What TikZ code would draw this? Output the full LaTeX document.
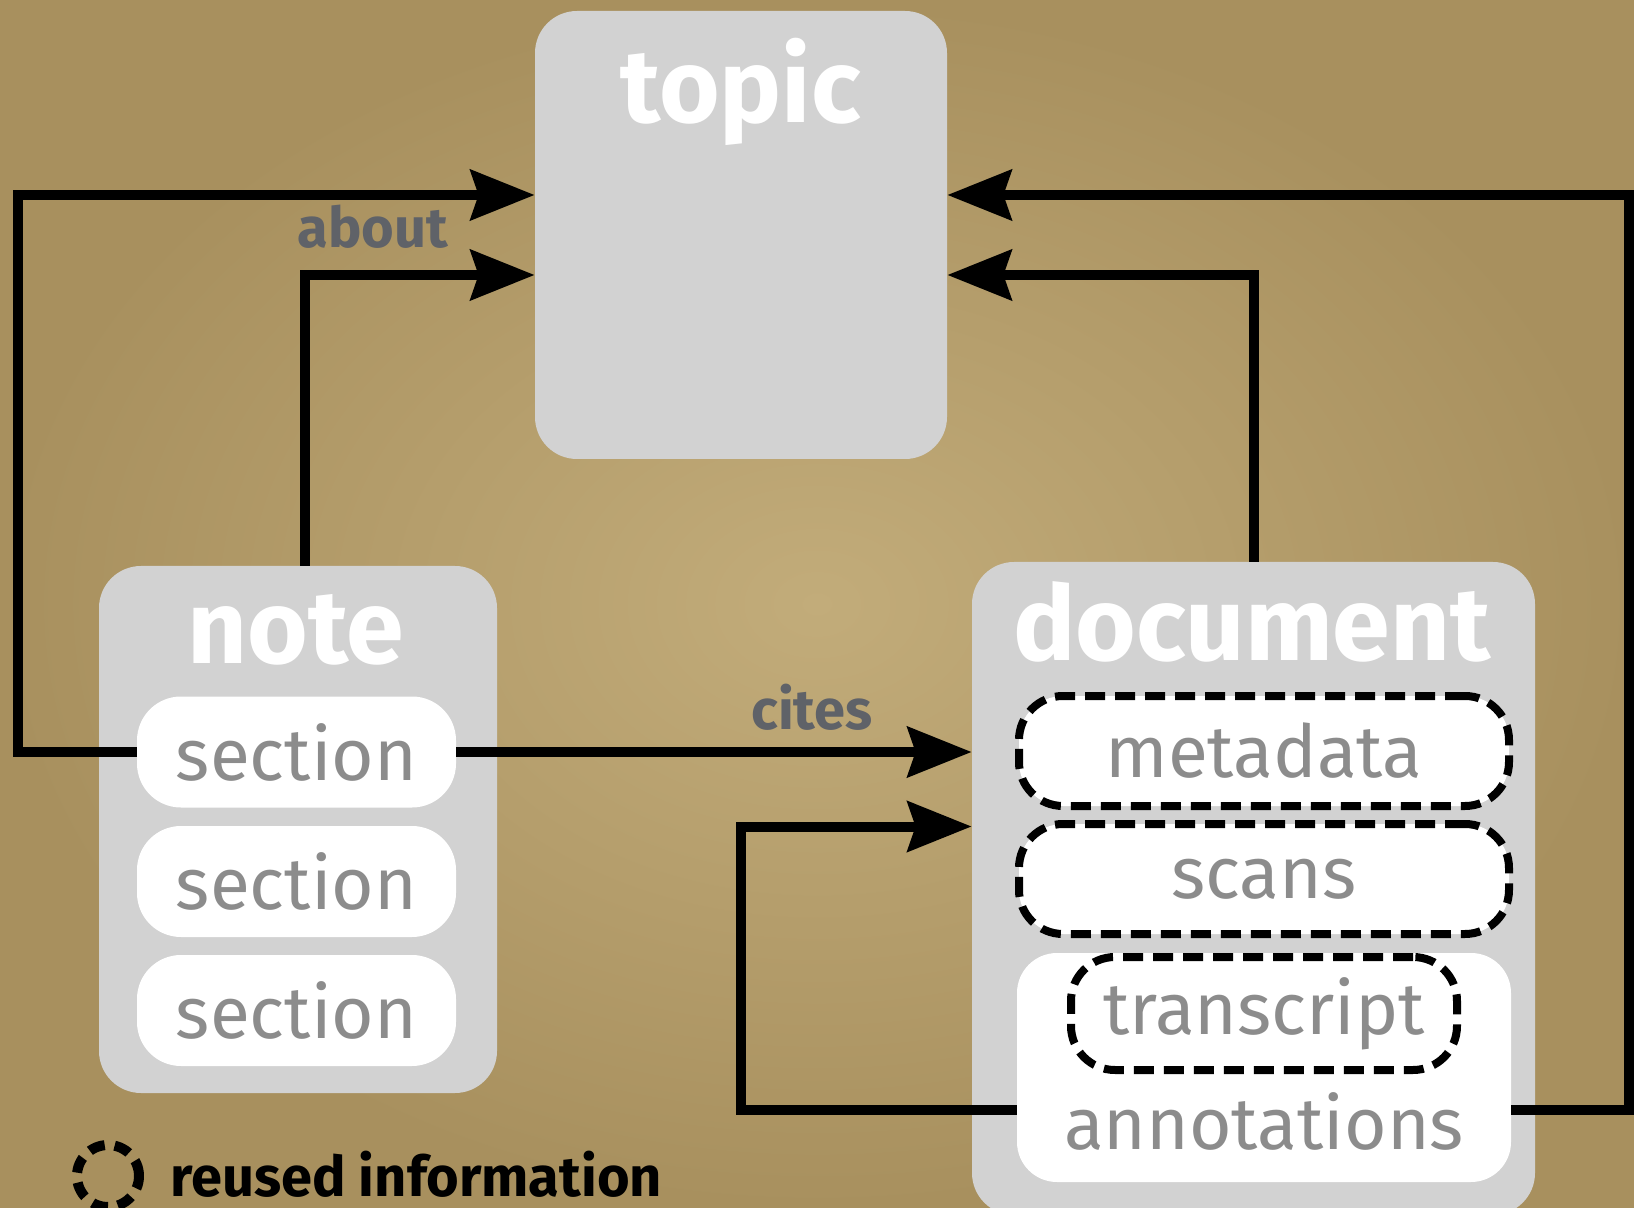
\documentclass[tikz,border=0pt]{standalone}
\usepackage{fontspec}
\setmainfont{Fira Sans}
\usetikzlibrary{arrows.meta}

\definecolor{paperlight}{RGB}{194,172,122}
\definecolor{paperdark}{RGB}{168,144,94}
\definecolor{boxgray}{RGB}{210,210,210}
\definecolor{partgray}{RGB}{140,140,140}
\definecolor{labelgray}{RGB}{95,98,104}

\begin{document}
\begin{tikzpicture}[x=0.5pt, y=-0.5pt,
    bigbox/.style={fill=boxgray, rounded corners=21pt, inner sep=0pt},
    title/.style={text=white, font=\fontsize{52}{52}\selectfont\bfseries, anchor=base},
    part/.style={fill=white, rounded corners=22pt, inner sep=0pt, text=partgray, font=\fontsize{36.5}{36.5}\selectfont},
    reused/.style={draw=black, dash pattern=on 10pt off 5pt, line width=4pt},
    link/.style={-{Stealth[length=32pt, width=25pt, inset=4pt]}, line width=5pt},
    linklabel/.style={text=labelgray, font=\fontsize{28}{28}\selectfont\bfseries, inner sep=0pt}]

    % paper
    \useasboundingbox (0,0) rectangle (1634,1208);
    \shade[inner color=paperlight, outer color=paperdark] (0,0) rectangle (1634,1208);

    % topic
    \node(topic) [bigbox, minimum width=206pt, minimum height=224pt] at (741,235) {};
    \node(topictitle) [title] at (741,123) {topic};

    % note
    \node(note) [bigbox, minimum width=199pt, minimum height=263.5pt] at (298,829.5) {};
    \node(notetitle) [title] at (296,663) {note};
    \node(sec1) [part, minimum width=159.5pt, minimum height=55.5pt] at (296.5,752)    {section};
    \node(sec2) [part, minimum width=159.5pt, minimum height=55.5pt] at (296.5,881.5)  {section};
    \node(sec3) [part, minimum width=159.5pt, minimum height=55.5pt] at (296.5,1010.5) {section};

    % document
    \node(doc) [bigbox, minimum width=281.5pt, minimum height=326.5pt] at (1253.5,888.5) {};
    \node(doctitle) [title] at (1252,661) {document};
    \node(meta)  [part, reused, minimum width=245pt, minimum height=55pt] at (1264,751) {metadata};
    \node(scans) [part, reused, minimum width=245pt, minimum height=55pt] at (1264,879) {scans};
    \node(annot) [part, rounded corners=20pt, minimum width=247pt, minimum height=114.5pt] at (1264,1067.5) {};
    \node(trans) [part, reused, minimum width=193pt, minimum height=56.5pt] at (1264,1013.5) {transcript};
    \node(annottext) [part, fill=none, anchor=base] at (1264,1149) {annotations};

    % legend
    \node(legend) [circle, reused, line width=5pt, dash pattern=on 8pt off 5pt, inner sep=0pt, minimum size=31pt] at (108,1176) {};
    \node(legendtext) [linklabel, text=black, anchor=base west] at (170,1196) {reused information};

    % about
    \draw [link][draw=black] (sec1.west) -| (18,195) -- ([yshift=20pt]topic.west);
    \draw [link][draw=black] ([xshift=3.5pt]note.north) |- node [linklabel, above=11pt, pos=0.648] {about} ([yshift=-20pt]topic.west);
    \draw [link][draw=black] (doc.north) |- ([yshift=-20pt]topic.east);
    \draw [link][draw=black] ([yshift=-21pt]annot.east) -| (1629,195) -- ([yshift=20pt]topic.east);

    % cites
    \draw [link][draw=black] (sec1.east) to node [linklabel, above=8.5pt, pos=0.69] {cites} (doc.west |- sec1.east);
    \draw [link][draw=black] ([yshift=-21pt]annot.west) -| (741,826.5) -- ([yshift=31pt]doc.west);

\end{tikzpicture}
\end{document}
